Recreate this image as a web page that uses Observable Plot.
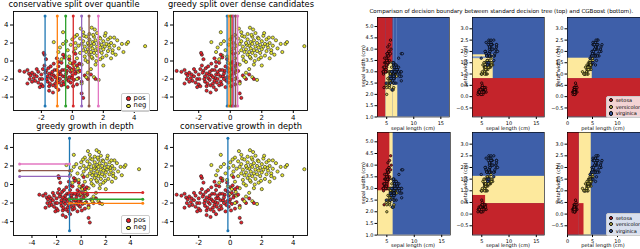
<!DOCTYPE html>
<html><head><meta charset="utf-8">
<script src="https://cdn.jsdelivr.net/npm/d3@7"></script>
<script src="https://cdn.jsdelivr.net/npm/@observablehq/plot@0.6"></script>
<style>
body{margin:0;background:#fff;}
#root{position:relative;width:640px;height:249px;overflow:hidden;font-family:"DejaVu Sans",sans-serif;}
.abs{position:absolute;white-space:nowrap;line-height:1;}
.ttl{font-size:8.3px;transform:translateX(-50%);}
.lg{position:absolute;border:0.8px solid #ccc;border-radius:2px;background:rgba(255,255,255,0.8);font-size:6.8px;line-height:7px;padding:1px 0;}
.lg .row{display:flex;align-items:center;height:7.6px;}
.lg .dt{display:inline-block;width:2.6px;height:2.6px;border-radius:50%;border:0.6px solid #222;margin:0 3px 0 4px;}
.rl{font-size:5px;}
.rot{transform:translate(-50%,-50%) rotate(-90deg);}
.cx{transform:translateX(-50%);}
.lg2{position:absolute;border:0.5px solid #ccc;border-radius:2px;background:rgba(255,255,255,0.8);font-size:5px;line-height:6px;padding:0.5px 0;}
.lg2 .row{display:flex;align-items:center;height:6.6px;}
.lg2 .dt{display:inline-block;width:2.2px;height:2.2px;border-radius:50%;border:0.5px solid #000;margin:0 2.5px 0 2px;}
</style></head>
<body><div id="root"></div>
<script>
// ---------- synthetic two-class data (left panels) ----------
const posX = [-3.4,-3.1,-2.9,-2.8,-2.7,-2.6,-2.5,-2.4,-2.9,-2.6,-2.3,-2.2,-2.1,-2.0,-1.9,-2.0,-1.9,-1.8,-1.85,-1.8,-1.7,-1.7,-1.6,-1.6,-1.5,-1.5,-1.4,-1.4,-1.3,-1.3,-1.25,-1.2,-1.2,-1.1,-1.1,-1.0,-1.0,-0.9,-0.9,-0.9,-0.8,-0.8,-0.7,-0.7,-0.6,-0.6,-0.5,-0.5,-0.4,-0.4,-0.3,-0.3,-0.2,-0.2,-0.1,-0.1,0.0,0.0,0.1,0.1,0.2,0.2,0.3,0.3,0.4,0.5,0.6,0.7,0.6,0.8,1.0,1.2,1.5,-2.3,-2.2,-1.95,-1.75,-1.55,-1.45,-1.35,-1.15,-1.05,-0.95,-0.85,-0.75,-0.65,-0.55,-0.45,-0.35,-0.25,-0.15,-0.05,0.05,0.15,0.25,0.45,-2.75,-2.45,-1.65,-1.25,-1.0,-0.6,-1.5,-2.1,-0.9];
const posY = [-1.1,-1.2,-1.0,-1.4,-1.6,-1.3,-1.9,-2.2,-2.5,-2.3,-1.7,-1.2,-2.0,-2.6,-2.8,-1.5,-0.9,-0.5,0.9,0.7,0.2,-1.1,-1.7,-2.3,-2.8,-1.4,-0.6,-1.9,-2.1,-1.2,-3.5,-1.6,-0.3,-2.5,-1.8,-1.0,-2.2,-3.2,-1.5,-0.6,-2.0,-1.2,-2.7,-0.2,-1.7,-2.3,-1.0,0.4,-1.4,-2.0,-2.9,-0.6,-1.8,0.2,-1.2,-2.4,-0.3,-1.6,-2.1,-0.9,0.8,-1.4,-2.6,-0.5,-1.9,-1.1,-3.6,-4.1,-2.3,-1.6,-2.0,-1.5,-2.0,-0.9,-2.4,-2.0,-1.3,-0.8,-2.5,-1.5,-1.0,-2.9,-1.9,-2.4,-1.5,-1.0,-2.6,-1.7,-1.1,-2.2,-0.8,-1.9,-2.8,-0.1,-1.2,-0.3,-2.0,-1.5,-2.0,-2.7,0.3,0.7,-3.3,-2.9,-0.1];
const negX = [4.7,3.6,3.5,3.3,2.7,1.25,1.45,-0.6,-1.2,-0.8,-0.6,-0.4,-0.3,-0.2,-0.1,0.0,0.1,0.1,0.2,0.2,0.3,0.3,0.4,0.4,0.5,0.5,0.6,0.6,0.7,0.7,0.7,0.8,0.8,0.9,0.9,0.9,1.0,1.0,1.0,1.1,1.1,1.1,1.2,1.2,1.2,1.3,1.3,1.3,1.4,1.4,1.4,1.5,1.5,1.5,1.6,1.6,1.6,1.7,1.7,1.8,1.8,1.8,1.9,1.9,2.0,2.0,2.0,2.1,2.1,2.2,2.2,2.3,2.3,2.4,2.5,2.5,2.6,2.7,2.8,2.9,3.0,3.2,0.0,0.3,0.6,1.0,1.4,1.7,-0.5,-0.7,-0.9,0.55,0.85,1.05,1.35,1.55,1.75,1.95,2.15,2.35,2.6,0.15,0.35,-0.15,1.25,0.75,2.45];
const negY = [1.65,2.1,1.9,1.0,2.6,3.7,3.5,3.2,2.1,1.5,1.9,2.2,1.2,0.5,1.8,2.4,1.0,-0.5,2.0,1.4,0.3,2.9,1.7,-1.2,2.5,0.9,1.9,-0.4,1.2,2.2,3.2,0.5,1.6,2.7,-1.8,1.0,2.0,1.3,-0.1,2.4,0.7,3.0,1.7,1.0,-0.9,2.1,0.3,1.4,2.7,1.9,0.9,1.2,2.3,-0.4,1.6,0.6,3.1,2.0,1.1,2.5,1.5,0.2,1.8,0.9,2.2,1.3,-0.5,2.8,1.6,0.6,1.9,1.1,2.4,1.5,0.3,2.0,1.2,1.7,0.7,2.3,1.4,1.9,-1.0,-2.0,-2.5,-1.3,-1.8,-2.1,0.6,0.2,1.0,3.6,0.1,1.8,2.9,0.0,2.6,0.4,3.1,1.8,0.9,2.7,-0.8,-0.2,0.45,2.8,2.6];

// split lines (left panels)
const lineColors = ["#1f77b4","#ff7f0e","#2ca02c","#d62728","#9467bd","#8c564b","#e377c2"];
const quantileSplits = [-1.76,-0.97,-0.43,0.06,0.6,1.08,1.68];
const denseSplits = [-0.2,-0.08,0.03,0.12,0.22,0.34,0.47];
const depthRoot = -0.95;
const depthLeftY = [0.87,1.49,2.21];      // purple, brown, pink (x from -5 to root)
const depthLeftColors = ["#9467bd","#8c564b","#e377c2"];
const depthRightY = [-0.87,-1.59,-2.03];  // red, green, orange (root to 5)
const depthRightColors = ["#d62728","#2ca02c","#ff7f0e"];
const conservativeRoot = -0.15;

// ---------- iris data (right panels) ----------
const SL=[5.1,4.9,4.7,4.6,5.0,5.4,4.6,5.0,4.4,4.9,5.4,4.8,4.8,4.3,5.8,5.7,5.4,5.1,5.7,5.1,5.4,5.1,4.6,5.1,4.8,5.0,5.0,5.2,5.2,4.7,4.8,5.4,5.2,5.5,4.9,5.0,5.5,4.9,4.4,5.1,5.0,4.5,4.4,5.0,5.1,4.8,5.1,4.6,5.3,5.0,
7.0,6.4,6.9,5.5,6.5,5.7,6.3,4.9,6.6,5.2,5.0,5.9,6.0,6.1,5.6,6.7,5.6,5.8,6.2,5.6,5.9,6.1,6.3,6.1,6.4,6.6,6.8,6.7,6.0,5.7,5.5,5.5,5.8,6.0,5.4,6.0,6.7,6.3,5.6,5.5,5.5,6.1,5.8,5.0,5.6,5.7,5.7,6.2,5.1,5.7,
6.3,5.8,7.1,6.3,6.5,7.6,4.9,7.3,6.7,7.2,6.5,6.4,6.8,5.7,5.8,6.4,6.5,7.7,7.7,6.0,6.9,5.6,7.7,6.3,6.7,7.2,6.2,6.1,6.4,7.2,7.4,7.9,6.4,6.3,6.1,7.7,6.3,6.4,6.0,6.9,6.7,6.9,5.8,6.8,6.7,6.7,6.3,6.5,6.2,5.9];
const SW=[3.5,3.0,3.2,3.1,3.6,3.9,3.4,3.4,2.9,3.1,3.7,3.4,3.0,3.0,4.0,4.4,3.9,3.5,3.8,3.8,3.4,3.7,3.6,3.3,3.4,3.0,3.4,3.5,3.4,3.2,3.1,3.4,4.1,4.2,3.1,3.2,3.5,3.6,3.0,3.4,3.5,2.3,3.2,3.5,3.8,3.0,3.8,3.2,3.7,3.3,
3.2,3.2,3.1,2.3,2.8,2.8,3.3,2.4,2.9,2.7,2.0,3.0,2.2,2.9,2.9,3.1,3.0,2.7,2.2,2.5,3.2,2.8,2.5,2.8,2.9,3.0,2.8,3.0,2.9,2.6,2.4,2.4,2.7,2.7,3.0,3.4,3.1,2.3,3.0,2.5,2.6,3.0,2.6,2.3,2.7,3.0,2.9,2.9,2.5,2.8,
3.3,2.7,3.0,2.9,3.0,3.0,2.5,2.9,2.5,3.6,3.2,2.7,3.0,2.5,2.8,3.2,3.0,3.8,2.6,2.2,3.2,2.8,2.8,2.7,3.3,3.2,2.8,3.0,2.8,3.0,2.8,3.8,2.8,2.8,2.6,3.0,3.4,3.1,3.0,3.1,3.1,3.1,2.7,3.2,3.3,3.0,2.5,3.0,3.4,3.0];
const PL=[1.4,1.4,1.3,1.5,1.4,1.7,1.4,1.5,1.4,1.5,1.5,1.6,1.4,1.1,1.2,1.5,1.3,1.4,1.7,1.5,1.7,1.5,1.0,1.7,1.9,1.6,1.6,1.5,1.4,1.6,1.6,1.5,1.5,1.4,1.5,1.2,1.3,1.4,1.3,1.5,1.3,1.3,1.3,1.6,1.9,1.4,1.6,1.4,1.5,1.4,
4.7,4.5,4.9,4.0,4.6,4.5,4.7,3.3,4.6,3.9,3.5,4.2,4.0,4.7,3.6,4.4,4.5,4.1,4.5,3.9,4.8,4.0,4.9,4.7,4.3,4.4,4.8,5.0,4.5,3.5,3.8,3.7,3.9,5.1,4.5,4.5,4.7,4.4,4.1,4.0,4.4,4.6,4.0,3.3,4.2,4.2,4.2,4.3,3.0,4.1,
6.0,5.1,5.9,5.6,5.8,6.6,4.5,6.3,5.8,6.1,5.1,5.3,5.5,5.0,5.1,5.3,5.5,6.7,6.9,5.0,5.7,4.9,6.7,4.9,5.7,6.0,4.8,4.9,5.6,5.8,6.1,6.4,5.6,5.1,5.6,6.1,5.6,5.5,4.8,5.4,5.6,5.1,5.1,5.9,5.7,5.2,5.0,5.2,5.4,5.1];
const PW=[0.2,0.2,0.2,0.2,0.2,0.4,0.3,0.2,0.2,0.1,0.2,0.2,0.1,0.1,0.2,0.4,0.4,0.3,0.3,0.3,0.2,0.4,0.2,0.5,0.2,0.2,0.4,0.2,0.2,0.2,0.2,0.4,0.1,0.2,0.2,0.2,0.2,0.1,0.2,0.2,0.3,0.3,0.2,0.6,0.4,0.3,0.2,0.2,0.2,0.2,
1.4,1.5,1.5,1.3,1.5,1.3,1.6,1.0,1.3,1.4,1.0,1.5,1.0,1.4,1.3,1.4,1.5,1.0,1.5,1.1,1.8,1.3,1.5,1.2,1.3,1.4,1.4,1.7,1.5,1.0,1.1,1.0,1.2,1.6,1.5,1.6,1.5,1.3,1.3,1.3,1.2,1.4,1.2,1.0,1.3,1.2,1.3,1.3,1.1,1.3,
2.5,1.9,2.1,1.8,2.2,2.1,1.7,1.8,1.8,2.5,2.0,1.9,2.1,2.0,2.4,2.3,1.8,2.2,2.3,1.5,2.3,2.0,2.0,1.8,2.1,1.8,1.8,1.8,2.1,1.6,1.9,2.0,2.2,1.5,1.4,2.3,2.4,1.8,1.8,2.1,2.4,2.3,1.9,2.3,2.5,2.3,1.9,2.0,2.3,1.8];
const speciesNames = ["setosa","versicolor","virginica"];
const RED="#c4242b", YEL="#fde99d", BLU="#3e5fa9", LBL="#7d98c9";
const classFill = ["#c4242b","#d8cc5a","#3e5fa9"];

// decision regions [x1,x2,y1,y2,color]
const regTopSepal = [[3.3,16.6,1.0,5.4,BLU],[3.3,4.85,1.0,5.4,RED],[4.85,6.15,3.4,5.4,RED],[4.85,6.15,1.0,3.4,YEL],[6.15,7.05,1.0,2.4,YEL],[6.3,6.38,2.4,5.4,LBL],[6.85,6.93,2.4,5.4,LBL]];
const regTopSlPw = [[3.3,16.5,-0.9,3.5,BLU],[3.3,16.5,-0.9,0.8,RED],[3.3,7.1,0.8,1.85,YEL],[3.3,6.0,1.68,1.76,LBL]];
const regTopPetal = [[0,14.7,-0.9,3.5,BLU],[0,14.7,-0.9,0.8,RED],[0,4.95,0.8,1.7,YEL]];
const regBotSepal = [[3.3,16.6,1.0,5.4,BLU],[3.3,6.15,1.0,5.4,YEL],[3.3,5.55,2.9,5.4,RED]];
const regBotSlPw = [[3.3,16.5,-0.9,3.5,BLU],[3.3,16.5,0.45,1.62,YEL],[3.3,16.5,-0.9,0.45,RED],[3.3,5.7,0.45,0.8,RED]];
const regBotPetal = [[0,14.7,-0.9,3.5,BLU],[2.35,4.75,-0.9,3.5,YEL],[0,2.35,-0.9,3.5,RED],[2.35,3.3,-0.9,0.45,RED]];

const root = document.getElementById("root");
function place(svg, left, top){ svg.style.position="absolute"; svg.style.left=left+"px"; svg.style.top=top+"px"; root.appendChild(svg); }
function txt(cls, s, x, y, extra){ const d=document.createElement("div"); d.className="abs "+cls; d.textContent=s; d.style.left=x+"px"; d.style.top=y+"px"; if(extra) Object.assign(d.style, extra); root.appendChild(d); return d; }

function panel(o){
  const ml=o.ml, mr=o.mr, mt=o.mt, mb=o.mb;
  const svg = Plot.plot({
    width:o.w+ml+mr, height:o.h+mt+mb, marginLeft:ml, marginRight:mr, marginTop:mt, marginBottom:mb,
    x:{domain:o.xd, ticks:o.xt, tickSize:o.ts, tickPadding:o.tp, label:null, tickFormat:o.xf||(d=>String(d))},
    y:{domain:o.yd, ticks:o.yt, tickSize:o.ts, tickPadding:o.tp, label:null, tickFormat:o.yf||(d=>String(d))},
    style:{fontSize:o.fs+"px", fontFamily:"DejaVu Sans, sans-serif", background:"transparent", color:"#000", overflow:"visible"},
    marks:[...o.marks, Plot.frame({stroke:"#000", strokeWidth:o.fw||0.8})]
  });
  place(svg, o.x-ml, o.y-mt);
}

// ---------- left scatter panels ----------
const pts = posX.map((x,i)=>({x, y:posY[i], c:"#e8202a"})).concat(negX.map((x,i)=>({x, y:negY[i], c:"#e6e632"})));
const ptsShuffled = pts.slice().sort((a,b)=> (a.x*7.3+a.y*3.1)%1 - (b.x*7.3+b.y*3.1)%1);
const dotMark = Plot.dot(ptsShuffled, {x:"x", y:"y", fill:"c", stroke:"#222", strokeWidth:0.6, r:1.6});
function vlines(xs, colors){
  const d = xs.map((x,i)=>({x, c:colors[i]}));
  return [Plot.ruleX(d,{x:"x", y1:-5, y2:5, stroke:"c", strokeWidth:1.3}),
          Plot.dot(d,{x:"x", y:-5, fill:"c", r:1.5}), Plot.dot(d,{x:"x", y:5, fill:"c", r:1.5})];
}
function hlines(ys, x1, x2, colors){
  const d = ys.map((y,i)=>({y, c:colors[i]}));
  return [Plot.ruleY(d,{y:"y", x1, x2, stroke:"c", strokeWidth:1.3}),
          Plot.dot(d,{x:x1, y:"y", fill:"c", r:1.5}), Plot.dot(d,{x:x2, y:"y", fill:"c", r:1.5})];
}
const common = {ml:22, mr:4, mt:4, mb:14, ts:3, tp:2, fs:7, yd:[-5.5,5.5], yt:[-4,-2,0,2,4], fw:0.9};
panel({...common, x:13, y:11, w:144, h:99, xd:[-3.8,5.5], xt:[-2,0,2,4], marks:[dotMark, ...vlines(quantileSplits, lineColors)]});
panel({...common, x:173, y:11, w:134, h:99, xd:[-3.6,4.9], xt:[-2,0,2,4], marks:[dotMark, ...vlines(denseSplits, lineColors)]});
panel({...common, x:13, y:133, w:144, h:102, xd:[-5.5,6.2], xt:[-4,-2,0,2,4], marks:[dotMark, ...vlines([depthRoot], ["#1f77b4"]), ...hlines(depthLeftY, -5, depthRoot, depthLeftColors), ...hlines(depthRightY, depthRoot, 5, depthRightColors)]});
panel({...common, x:173, y:133, w:134, h:102, xd:[-3.6,4.9], xt:[-2,0,2,4], marks:[dotMark, ...vlines([conservativeRoot], ["#1f77b4"])]});

txt("ttl","conservative split over quantile",74,0);
txt("ttl","greedy split over dense candidates",241,0);
txt("ttl","greedy growth in depth",85,122);
txt("ttl","conservative growth in depth",241,122);

function legend(cls, left, top, items){
  const d=document.createElement("div"); d.className=cls; d.style.left=left+"px"; d.style.top=top+"px";
  items.forEach(([lab,col])=>{ const r=document.createElement("div"); r.className="row"; const s=document.createElement("span"); s.className="dt"; s.style.background=col; r.appendChild(s); const t=document.createElement("span"); t.textContent=lab; t.style.paddingRight="3px"; r.appendChild(t); d.appendChild(r); });
  root.appendChild(d);
}
legend("lg",121,92.5,[["pos","#e8202a"],["neg","#e6e632"]]);
legend("lg",121,214.5,[["pos","#e8202a"],["neg","#e6e632"]]);

// ---------- right decision-boundary panels ----------
function regMarks(reg){ return Plot.rect(reg,{x1:d=>d[0], x2:d=>d[1], y1:d=>d[2], y2:d=>d[3], fill:d=>d[4], inset:0}); }
function irisDots(xs, ys){ const d = xs.map((x,i)=>({x, y:ys[i], c:classFill[Math.floor(i/50)]})); return Plot.dot(d,{x:"x", y:"y", fill:"c", stroke:"#000", strokeWidth:0.7, r:1.2}); }
const rc = {ml:14, mr:2, mt:2, mb:9, ts:2.5, tp:1.5, fs:5, fw:0.6};
const fmt1 = d=>d.toFixed(1).replace("-","\u2212");
const sepalY = {yd:[1.0,5.4], yt:[1,1.5,2,2.5,3,3.5,4,4.5,5], yf:fmt1};
const pwY = {yd:[-0.9,3.5], yt:[-0.5,0,0.5,1,1.5,2,2.5,3], yf:fmt1};
panel({...rc, ...sepalY, x:377, y:16.5, w:72, h:99.5, xd:[3.3,16.6], xt:[5,10,15], marks:[regMarks(regTopSepal), irisDots(SL,SW)]});
panel({...rc, ...pwY, x:472, y:16.5, w:72, h:99.5, xd:[3.3,16.5], xt:[5,10,15], marks:[regMarks(regTopSlPw), irisDots(SL,PW)]});
panel({...rc, ...pwY, x:567, y:16.5, w:73.5, h:99.5, xd:[0,14.7], xt:[0,5,10], marks:[regMarks(regTopPetal), irisDots(PL,PW)]});
panel({...rc, ...sepalY, x:377, y:131.7, w:73, h:102.6, xd:[3.3,16.6], xt:[5,10,15], marks:[regMarks(regBotSepal), irisDots(SL,SW)]});
panel({...rc, ...pwY, x:472, y:131.7, w:72, h:102.6, xd:[3.3,16.5], xt:[5,10,15], marks:[regMarks(regBotSlPw), irisDots(SL,PW)]});
panel({...rc, ...pwY, x:567, y:131.7, w:73.5, h:102.6, xd:[0,14.7], xt:[0,5,10], marks:[regMarks(regBotPetal), irisDots(PL,PW)]});

txt("rl","Comparison of decision boundary between standard decision tree (top) and CGBoost (bottom).",369.5,9.3,{fontSize:"5.55px"});
txt("rl rot","sepal width (cm)",362.5,66);
txt("rl rot","petal width (cm)",464.5,66);
txt("rl rot","petal width (cm)",557.5,66);
txt("rl rot","sepal width (cm)",362.5,183);
txt("rl rot","petal width (cm)",464.5,183);
txt("rl rot","petal width (cm)",557.5,183);
txt("rl cx","sepal length (cm)",413,125.5);
txt("rl cx","sepal length (cm)",508,125.5);
txt("rl cx","petal length (cm)",603,125.5);
txt("rl cx","sepal length (cm)",413,243);
txt("rl cx","sepal length (cm)",508,243);
txt("rl cx","petal length (cm)",603,243);
legend("lg2",606,95.5,speciesNames.map((s,i)=>[s,classFill[i]]));
legend("lg2",606,213,speciesNames.map((s,i)=>[s,classFill[i]]));
</script></body></html>
